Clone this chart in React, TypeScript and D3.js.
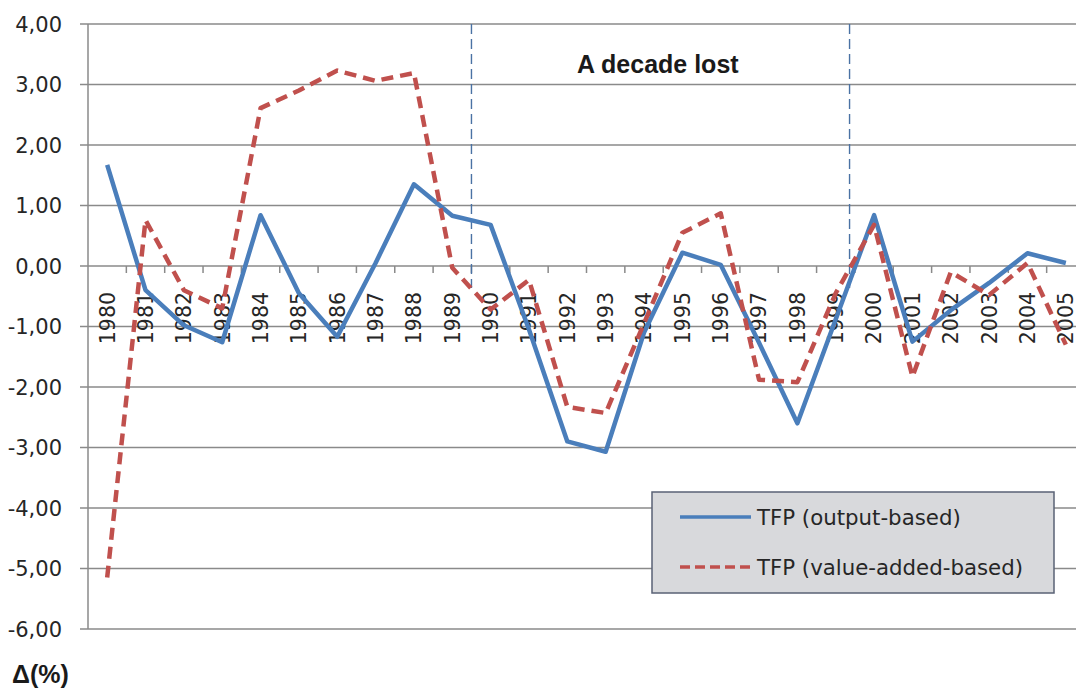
import React, { Component } from 'react';
import * as d3 from 'd3';

// years on the category axis
const years = [1980, 1981, 1982, 1983, 1984, 1985, 1986, 1987, 1988, 1989, 1990, 1991, 1992,
  1993, 1994, 1995, 1996, 1997, 1998, 1999, 2000, 2001, 2002, 2003, 2004, 2005];

// TFP growth, output-based (%)
const outputBased = [1.67, -0.4, -0.98, -1.26, 0.84, -0.45, -1.17, 0.05, 1.35, 0.83, 0.68, -1.05, -2.9,
  -3.07, -1.1, 0.22, 0.02, -1.27, -2.6, -0.88, 0.84, -1.25, -0.73, -0.28, 0.21, 0.05];

// TFP growth, value-added-based (%)
const valueAddedBased = [-5.15, 0.76, -0.4, -0.7, 2.61, 2.9, 3.23, 3.06, 3.19, -0.03, -0.72, -0.23, -2.33,
  -2.43, -0.95, 0.55, 0.87, -1.88, -1.92, -0.45, 0.68, -1.83, -0.1, -0.48, 0.05, -1.3];

const yTicks = [4, 3, 2, 1, 0, -1, -2, -3, -4, -5, -6];
const decadeBounds = [1989.5, 1999.36];
const seriesNames = ['TFP (output-based)', 'TFP (value-added-based)'];

const W = 1076;
const H = 689;
const FONT = 'DejaVu Sans, Verdana, sans-serif';
const BLUE = '#4a7ebb';
const RED = '#c0504d';
const GRID = '#8a8a8a';

class App extends Component {
  myRef: React.RefObject<HTMLDivElement>;

  constructor(props: any) {
    super(props);
    this.myRef = React.createRef();
  }

  componentDidMount() {
    this.drawChart();
  }

  drawChart() {
    d3.select(this.myRef.current).selectAll('*').remove();

    const svg = d3.select(this.myRef.current)
      .append('svg')
      .attr('width', W)
      .attr('height', H)
      .style('display', 'block')
      .style('background', '#ffffff');

    const x = d3.scaleLinear().domain([1979.5, 2005.5]).range([88, 1085]);
    const y = d3.scaleLinear().domain([-6, 4]).range([629, 24]);

    // horizontal gridlines
    svg.append('g')
      .selectAll('line')
      .data(yTicks)
      .enter()
      .append('line')
      .attr('x1', 80)
      .attr('x2', x(2005.5))
      .attr('y1', d => y(d))
      .attr('y2', d => y(d))
      .attr('stroke', GRID)
      .attr('stroke-width', 1.5);

    // y axis line
    svg.append('line')
      .attr('x1', x(1979.5)).attr('x2', x(1979.5))
      .attr('y1', y(4)).attr('y2', y(-6))
      .attr('stroke', GRID)
      .attr('stroke-width', 1.5);

    // y tick labels, comma decimals
    svg.append('g')
      .selectAll('text')
      .data(yTicks)
      .enter()
      .append('text')
      .attr('x', 62)
      .attr('y', d => y(d))
      .attr('dy', '0.36em')
      .attr('text-anchor', 'end')
      .style('font-family', FONT)
      .style('font-size', '21px')
      .attr('fill', '#262626')
      .text(d => d3.format('.2f')(d).replace('.', ',').replace('−', '-'));

    // category ticks on the zero line
    const bounds = years.map(d => d + 0.5);
    svg.append('g')
      .selectAll('line')
      .data(bounds)
      .enter()
      .append('line')
      .attr('x1', d => x(d)).attr('x2', d => x(d))
      .attr('y1', y(0)).attr('y2', y(0) + 7)
      .attr('stroke', GRID)
      .attr('stroke-width', 1.5);

    // decade markers
    svg.append('g')
      .selectAll('line')
      .data(decadeBounds)
      .enter()
      .append('line')
      .attr('x1', d => x(d)).attr('x2', d => x(d))
      .attr('y1', y(4)).attr('y2', y(0) + 22)
      .attr('stroke', '#4a72a4')
      .attr('stroke-width', 1.4)
      .attr('stroke-dasharray', '10,5');

    // year labels, rotated
    svg.append('g')
      .selectAll('text')
      .data(years)
      .enter()
      .append('text')
      .attr('transform', d => `translate(${x(d)},${y(0) + 26}) rotate(-90)`)
      .attr('dy', '0.36em')
      .attr('text-anchor', 'end')
      .style('font-family', FONT)
      .style('font-size', '20.5px')
      .attr('fill', '#262626')
      .text(d => d);

    const line = d3.line<number>()
      .x((d, i) => x(years[i]))
      .y(d => y(d));

    svg.append('path')
      .datum(outputBased)
      .attr('d', line)
      .attr('fill', 'none')
      .attr('stroke', BLUE)
      .attr('stroke-width', 4.5)
      .attr('stroke-linejoin', 'round');

    svg.append('path')
      .datum(valueAddedBased)
      .attr('d', line)
      .attr('fill', 'none')
      .attr('stroke', RED)
      .attr('stroke-width', 4.5)
      .attr('stroke-dasharray', '12,7')
      .attr('stroke-linejoin', 'round');

    // annotation
    svg.append('text')
      .attr('x', 577)
      .attr('y', 73)
      .style('font-family', 'Liberation Sans, Arial, sans-serif')
      .style('font-weight', 'bold')
      .style('font-size', '25px')
      .attr('fill', '#1a1a1a')
      .text('A decade lost');

    svg.append('text')
      .attr('x', 12)
      .attr('y', 683)
      .style('font-family', 'Liberation Sans, Arial, sans-serif')
      .style('font-weight', 'bold')
      .style('font-size', '25px')
      .attr('fill', '#1a1a1a')
      .text('Δ(%)');

    // legend
    const legend = svg.append('g');
    legend.append('rect')
      .attr('x', 652).attr('y', 492)
      .attr('width', 402).attr('height', 101)
      .attr('fill', '#d8d9dc')
      .attr('stroke', '#5a6275')
      .attr('stroke-width', 1.5);

    const styles = [
      { color: BLUE, dash: null },
      { color: RED, dash: '10,5' }
    ];
    seriesNames.forEach((name, i) => {
      const ly = 517 + i * 50;
      legend.append('line')
        .attr('x1', 680).attr('x2', 751)
        .attr('y1', ly).attr('y2', ly)
        .attr('stroke', styles[i].color)
        .attr('stroke-width', 3.5)
        .attr('stroke-dasharray', styles[i].dash);
      legend.append('text')
        .attr('x', 757)
        .attr('y', ly)
        .attr('dy', '0.36em')
        .style('font-family', FONT)
        .style('font-size', '21.3px')
        .attr('fill', '#262626')
        .text(name);
    });
  }

  render() {
    return <>
      <div ref={this.myRef} style={{ position: 'absolute', left: 0, top: 0, width: W, height: H, overflow: 'hidden' }}></div>
    </>;
  }
}

export default App;
